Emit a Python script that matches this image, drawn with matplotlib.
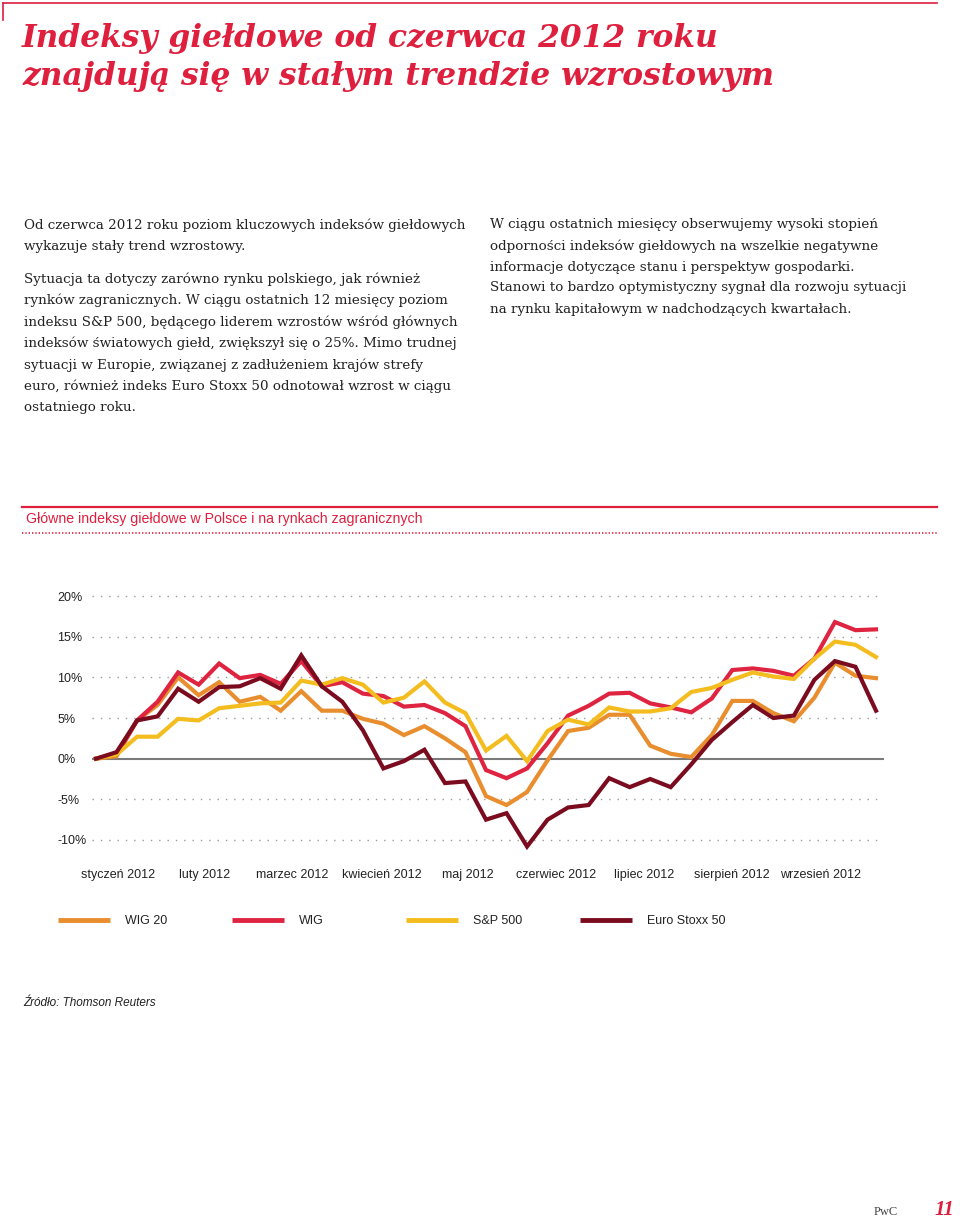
import matplotlib
matplotlib.use('Agg')
import matplotlib.pyplot as plt
from matplotlib.lines import Line2D
import numpy as np

W, H = 960, 1218
RED = '#DE1F3D'

# dane tygodniowe (zmiana % od poczatku 2012)
weeks = np.arange(39)
wig20 = [0, 0.3, 4.7, 6.6, 10.0, 7.8, 9.4, 7.0, 7.6, 5.9, 8.3, 5.9, 5.9, 4.9, 4.3, 2.9,
         4.0, 2.5, 0.8, -4.6, -5.7, -4.1, -0.2, 3.4, 3.8, 5.4, 5.4, 1.6, 0.6, 0.2, 2.9,
         7.1, 7.1, 5.6, 4.6, 7.5, 11.8, 10.2, 9.9]
wig = [0, 0.5, 4.7, 7.0, 10.6, 9.1, 11.7, 9.9, 10.3, 9.2, 12.0, 8.9, 9.4, 8.0, 7.7, 6.4,
       6.6, 5.6, 4.0, -1.4, -2.4, -1.2, 1.9, 5.3, 6.5, 8.0, 8.1, 6.8, 6.3, 5.7, 7.4,
       10.9, 11.1, 10.8, 10.2, 12.3, 16.8, 15.8, 15.9]
sp500 = [0, 0.5, 2.7, 2.7, 4.9, 4.7, 6.2, 6.5, 6.8, 6.9, 9.6, 9.1, 9.9, 9.1, 6.9, 7.5,
         9.5, 6.9, 5.6, 1.0, 2.8, -0.3, 3.4, 4.8, 4.2, 6.3, 5.8, 5.8, 6.2, 8.2, 8.7,
         9.7, 10.6, 10.1, 9.8, 12.3, 14.4, 14.0, 12.5]
euro = [0, 0.8, 4.7, 5.2, 8.6, 7.0, 8.8, 8.9, 9.9, 8.6, 12.7, 8.9, 7.0, 3.5, -1.2, -0.3,
        1.1, -3.0, -2.8, -7.5, -6.7, -10.8, -7.5, -6.0, -5.7, -2.4, -3.5, -2.5, -3.5,
        -0.7, 2.3, 4.5, 6.6, 5.0, 5.3, 9.7, 12.0, 11.3, 5.9]

series_names = ['WIG 20', 'WIG', 'S&P 500', 'Euro Stoxx 50']
series_colors = ['#E98E2E', '#DE2440', '#F4BD1F', '#7B0C1F']

months = ['styczeń 2012', 'luty 2012', 'marzec 2012', 'kwiecień 2012', 'maj 2012',
          'czerwiec 2012', 'lipiec 2012', 'sierpień 2012', 'wrzesień 2012']
month_pos = [1.07, 5.31, 9.55, 13.9, 18.1, 22.4, 26.7, 31.0, 35.3]
yticks = [-10, -5, 0, 5, 10, 15, 20]

title_lines = ['Indeksy giełdowe od czerwca 2012 roku',
               'znajdują się w stałym trendzie wzrostowym']
left_col = ['Od czerwca 2012 roku poziom kluczowych indeksów giełdowych',
            'wykazuje stały trend wzrostowy.',
            None,
            'Sytuacja ta dotyczy zarówno rynku polskiego, jak również',
            'rynków zagranicznych. W ciągu ostatnich 12 miesięcy poziom',
            'indeksu S&P 500, będącego liderem wzrostów wśród głównych',
            'indeksów światowych giełd, zwiększył się o 25%. Mimo trudnej',
            'sytuacji w Europie, związanej z zadłużeniem krajów strefy',
            'euro, również indeks Euro Stoxx 50 odnotował wzrost w ciągu',
            'ostatniego roku.']
right_col = ['W ciągu ostatnich miesięcy obserwujemy wysoki stopień',
             'odporności indeksów giełdowych na wszelkie negatywne',
             'informacje dotyczące stanu i perspektyw gospodarki.',
             'Stanowi to bardzo optymistyczny sygnał dla rozwoju sytuacji',
             'na rynku kapitałowym w nadchodzących kwartałach.']


def fx(px):
    return px / W


def fy(py):
    return 1 - py / H


def hline(fig, x0, x1, y, **kw):
    fig.add_artist(Line2D([fx(x0), fx(x1)], [fy(y), fy(y)], transform=fig.transFigure, **kw))


fig = plt.figure(figsize=(W / 100, H / 100), dpi=100)

# naglowek strony
hline(fig, 3, 937, 2.5, color=RED, lw=1.2)
fig.add_artist(Line2D([fx(3), fx(3)], [fy(2.5), fy(20)], transform=fig.transFigure,
                      color=RED, lw=1.2))
for i, t in enumerate(title_lines):
    fig.text(fx(22), fy(38 + i * 39), t, family='DejaVu Serif', style='italic',
             weight='bold', fontsize=22.5, color=RED, va='center')

serif = 'DejaVu Serif'
y = 225
for t in left_col:
    if t is None:
        y += 11
        continue
    fig.text(fx(24), fy(y), t, family=serif, fontsize=9.7, color='#222222', va='center')
    y += 21.5
for i, t in enumerate(right_col):
    fig.text(fx(490), fy(225 + i * 21), t, family=serif, fontsize=9.7, color='#222222',
             va='center')

# tytul wykresu
hline(fig, 22, 937, 507, color=RED, lw=1.6)
fig.text(fx(26), fy(519), 'Główne indeksy giełdowe w Polsce i na rynkach zagranicznych',
         family='Liberation Sans', fontsize=10.2, color=RED, va='center')
hline(fig, 22, 937, 533, color=RED, lw=1.2, linestyle=(0, (0.8, 1.2)))

# wykres
ax = fig.add_axes([fx(92), fy(850), fx(884) - fx(92), fy(590) - fy(850)])
for vals, name, col in zip([wig20, wig, sp500, euro], series_names, series_colors):
    ax.plot(weeks, vals, color=col, lw=3, solid_joinstyle='miter', label=name, zorder=3)
for v in yticks:
    if v == 0:
        ax.axhline(0, color='#7a7a7a', lw=1.5, zorder=2)
    else:
        ax.axhline(v, color='#9a9a9a', lw=1, linestyle=(0, (1, 5)), zorder=1)
ax.set_xlim(-0.195, 38.39)
ax.set_ylim(-11.23, 20.74)
ax.set_yticks(yticks)
ax.set_yticklabels([f'{v}%' for v in yticks], family='Liberation Sans', fontsize=9,
                   color='#222222', ha='left')
ax.tick_params(axis='y', length=0, pad=25)
ax.set_xticks(month_pos)
ax.set_xticklabels(months, family='Liberation Sans', fontsize=9, color='#222222')
ax.tick_params(axis='x', length=0, pad=14)
for s in ax.spines.values():
    s.set_visible(False)
ax.patch.set_alpha(0)

# legenda
leg_x = [58, 232, 406, 580]
for x0, name, col in zip(leg_x, series_names, series_colors):
    hline(fig, x0, x0 + 52, 920, color=col, lw=3.5, solid_capstyle='butt')
    fig.text(fx(x0 + 67), fy(920.5), name, family='Liberation Sans', fontsize=9,
             color='#222222', va='center')

fig.text(fx(23), fy(1003), 'Źródło: Thomson Reuters', family='Liberation Sans',
         style='italic', fontsize=8.5, color='#222222', va='center')
fig.text(fx(874), fy(1212), 'PwC', family='Liberation Serif', fontsize=9,
         color='#444444', va='center')
fig.text(fx(935), fy(1210), '11', family='Liberation Serif', style='italic',
         weight='bold', fontsize=15, color=RED, va='center')

fig.savefig('out.png', dpi=100)
